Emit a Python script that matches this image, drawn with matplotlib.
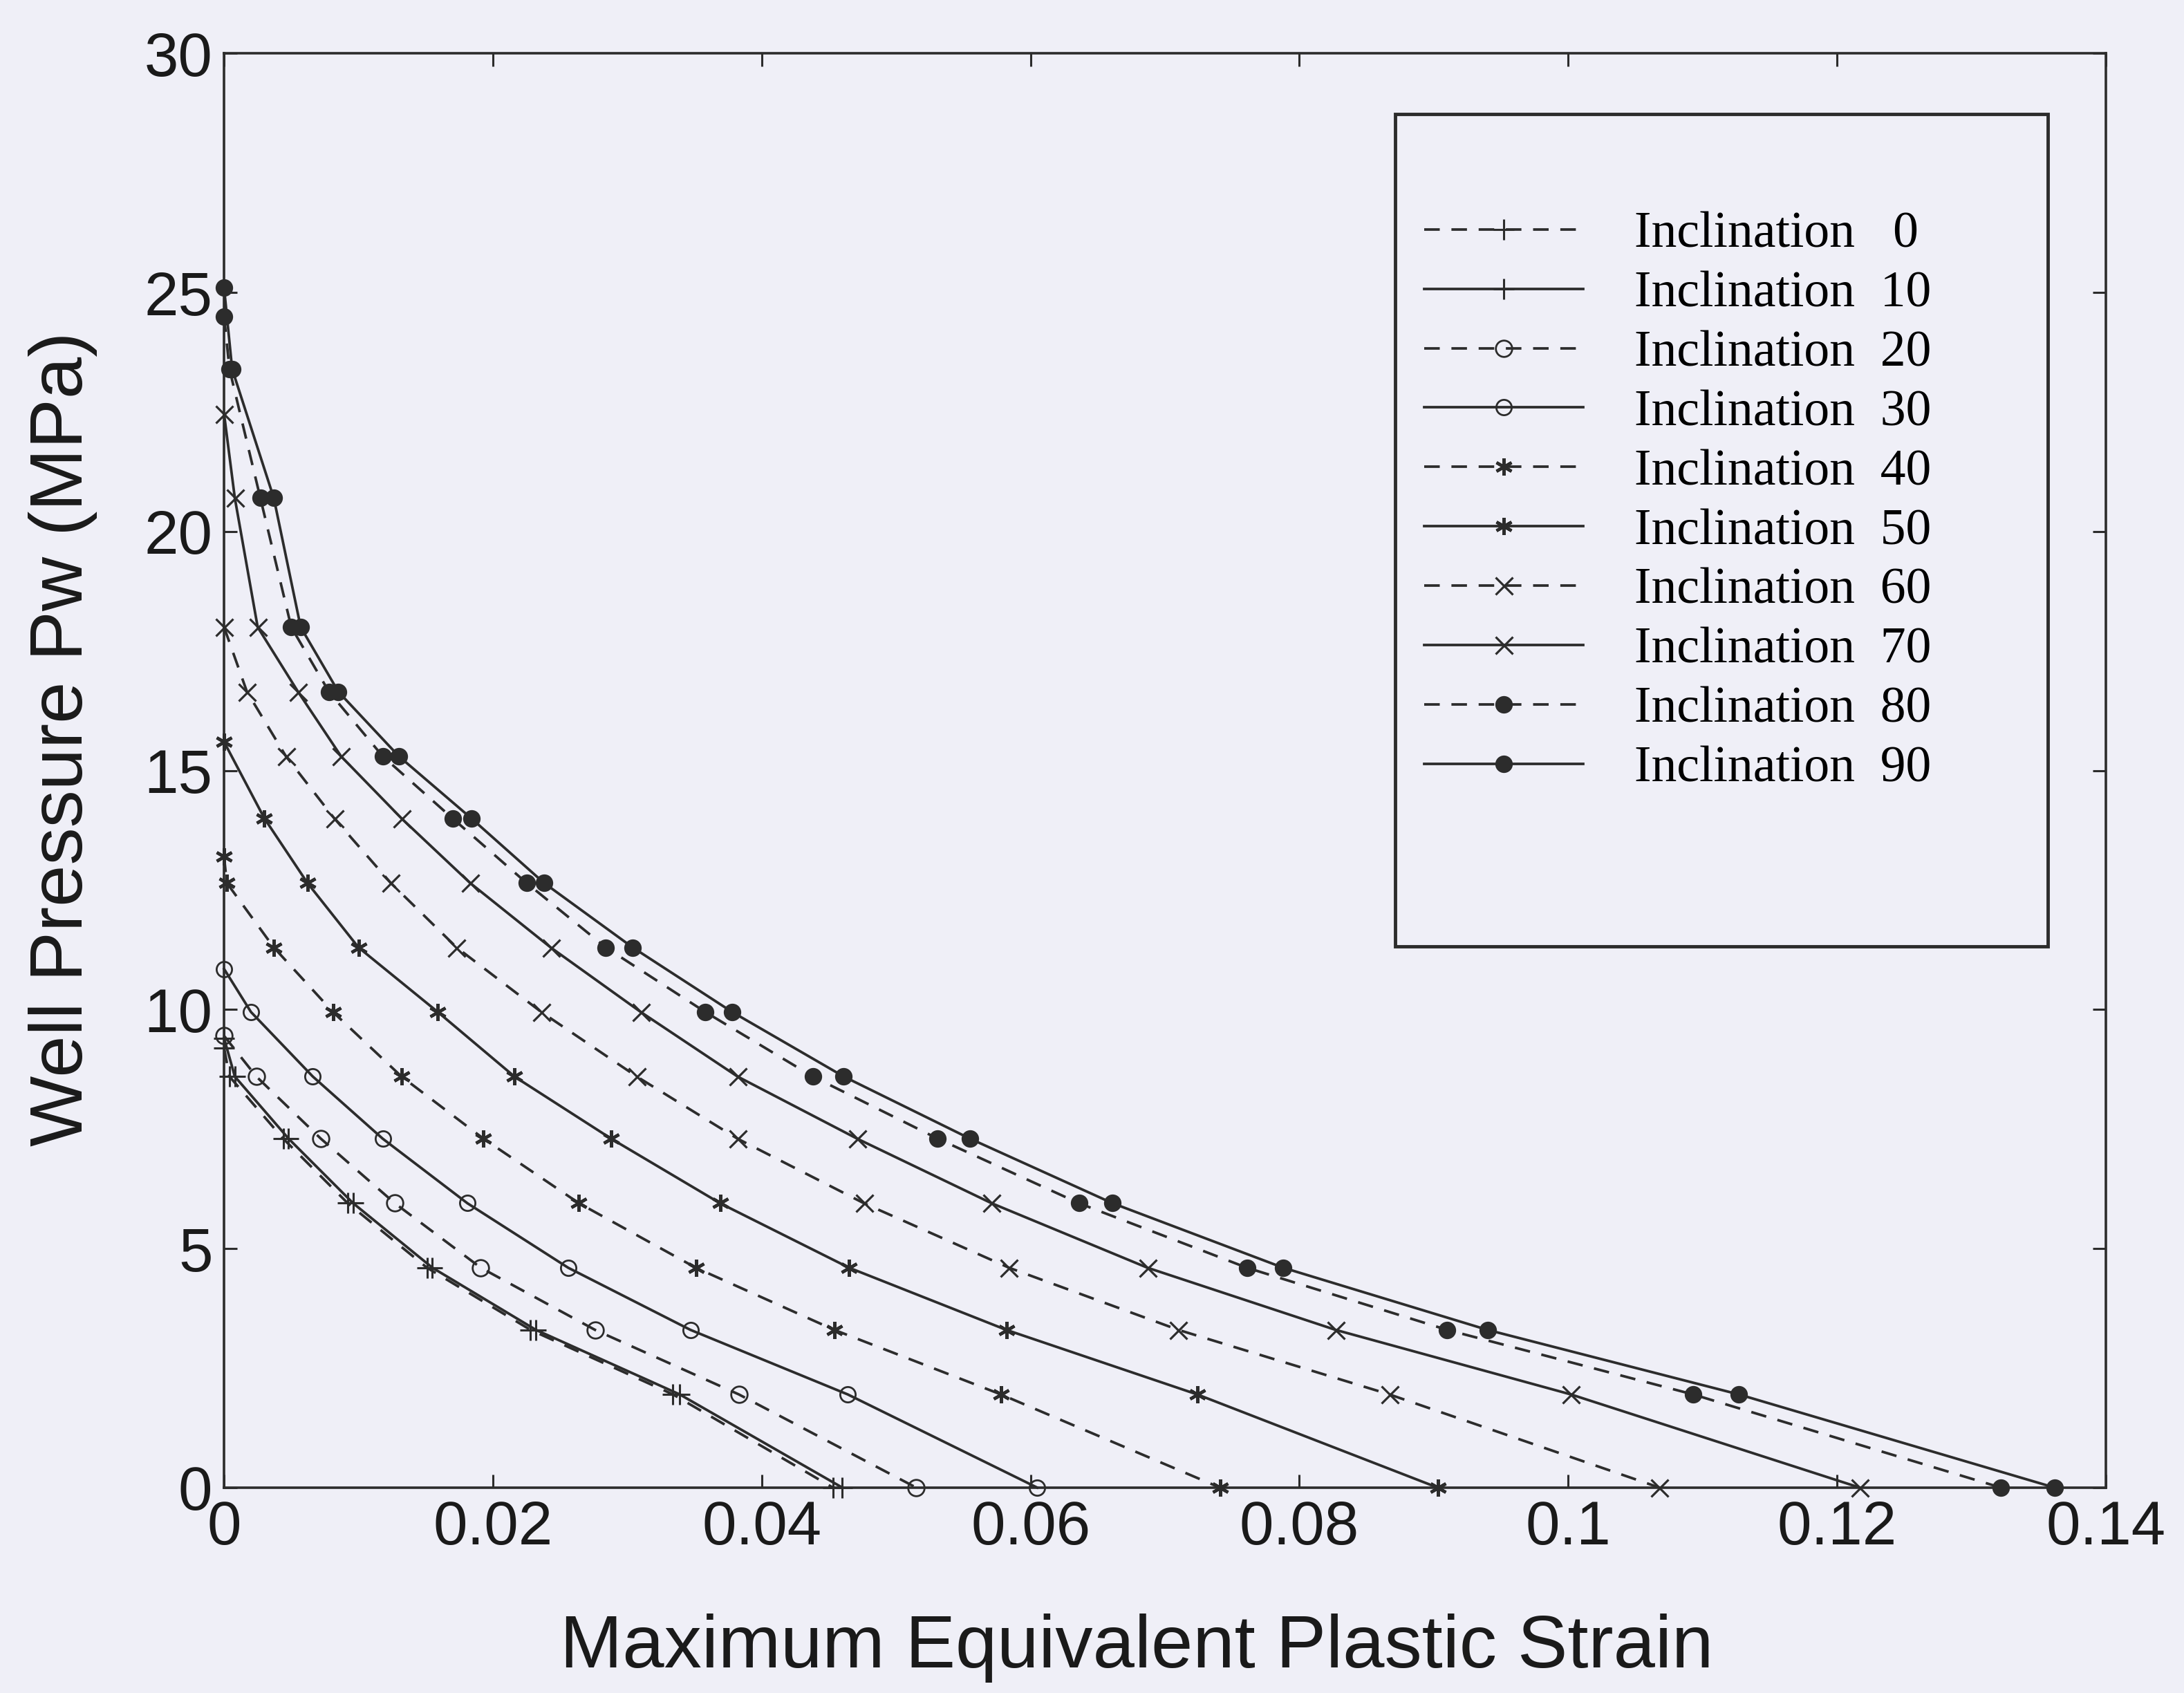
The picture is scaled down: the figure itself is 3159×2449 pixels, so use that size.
import matplotlib
matplotlib.use("Agg")
import matplotlib.pyplot as plt
from matplotlib.patches import Rectangle

# ---------------- data ----------------
inclinations = [0, 10, 20, 30, 40, 50, 60, 70, 80, 90]

strain_0 = [0, 0.0004, 0.0044, 0.0092, 0.0151, 0.0228, 0.0334, 0.0453]
pw_0 = [9.2, 8.6, 7.3, 5.95, 4.6, 3.3, 1.95, 0]

strain_10 = [0, 0.0008, 0.0048, 0.0096, 0.0155, 0.0232, 0.0339, 0.0460]
pw_10 = [9.4, 8.6, 7.3, 5.95, 4.6, 3.3, 1.95, 0]

strain_20 = [0, 0.0024, 0.0072, 0.0127, 0.0191, 0.0276, 0.0383, 0.0515]
pw_20 = [9.45, 8.6, 7.3, 5.95, 4.6, 3.3, 1.95, 0]

strain_30 = [0, 0.0020, 0.0066, 0.0118, 0.0181, 0.0256, 0.0347, 0.0464, 0.0605]
pw_30 = [10.85, 9.95, 8.6, 7.3, 5.95, 4.6, 3.3, 1.95, 0]

strain_40 = [0, 0.0002, 0.0037, 0.0081, 0.0132, 0.0193, 0.0264, 0.0351, 0.0454, 0.0578, 0.0741]
pw_40 = [13.2, 12.65, 11.3, 9.95, 8.6, 7.3, 5.95, 4.6, 3.3, 1.95, 0]

strain_50 = [0, 0.0030, 0.0062, 0.0100, 0.0159, 0.0216, 0.0288, 0.0369, 0.0465, 0.0582, 0.0724, 0.0903]
pw_50 = [15.6, 14.0, 12.65, 11.3, 9.95, 8.6, 7.3, 5.95, 4.6, 3.3, 1.95, 0]

strain_60 = [0, 0.0017, 0.0046, 0.0082, 0.0124, 0.0173, 0.0236, 0.0307, 0.0382, 0.0476,
             0.0584, 0.0710, 0.0867, 0.1068]
pw_60 = [18.0, 16.65, 15.3, 14.0, 12.65, 11.3, 9.95, 8.6, 7.3, 5.95, 4.6, 3.3, 1.95, 0]

strain_70 = [0, 0.0008, 0.0025, 0.0055, 0.0087, 0.0132, 0.0183, 0.0243, 0.0310, 0.0382,
             0.0471, 0.0571, 0.0687, 0.0827, 0.1002, 0.1217]
pw_70 = [22.46, 20.7, 18.0, 16.65, 15.3, 14.0, 12.65, 11.3, 9.95, 8.6, 7.3, 5.95, 4.6, 3.3, 1.95, 0]

strain_80 = [0, 0.0004, 0.0027, 0.0050, 0.0078, 0.0118, 0.0170, 0.0225, 0.0284, 0.0358,
             0.0438, 0.0531, 0.0636, 0.0761, 0.0910, 0.1093, 0.1322]
pw_80 = [24.5, 23.4, 20.7, 18.0, 16.65, 15.3, 14.0, 12.65, 11.3, 9.95, 8.6, 7.3, 5.95, 4.6,
         3.3, 1.95, 0]

strain_90 = [0, 0.0006, 0.0037, 0.0057, 0.0085, 0.0130, 0.0184, 0.0238, 0.0304, 0.0378,
             0.0461, 0.0555, 0.0661, 0.0788, 0.0940, 0.1127, 0.1362]
pw_90 = [25.1, 23.4, 20.7, 18.0, 16.65, 15.3, 14.0, 12.65, 11.3, 9.95, 8.6, 7.3, 5.95, 4.6,
         3.3, 1.95, 0]

strains = [strain_0, strain_10, strain_20, strain_30, strain_40,
           strain_50, strain_60, strain_70, strain_80, strain_90]
pressures = [pw_0, pw_10, pw_20, pw_30, pw_40, pw_50, pw_60, pw_70, pw_80, pw_90]

x_ticks = [0, 0.02, 0.04, 0.06, 0.08, 0.1, 0.12, 0.14]
x_tick_labels = ["0", "0.02", "0.04", "0.06", "0.08", "0.1", "0.12", "0.14"]
y_ticks = [0, 5, 10, 15, 20, 25, 30]
y_tick_labels = ["0", "5", "10", "15", "20", "25", "30"]

# ---------------- styles ----------------
BG = "#efeff7"
INK = "#2c2c2c"
asterisk = (6, 2, 0)
markers = ["+", "+", "o", "o", asterisk, asterisk, "x", "x", "o", "o"]
msizes = [21, 21, 17, 16, 18, 18, 18, 18, 17, 17]
mfaces = ["none", "none", "none", "none", INK, INK, "none", "none", INK, INK]
mews = [2.2, 2.2, 2.0, 2.0, 3.2, 3.2, 2.3, 2.3, 1.2, 1.2]

fig = plt.figure(figsize=(31.59, 24.49), dpi=100, facecolor=BG)
ax = fig.add_axes([0.1026, 0.1213, 0.8616, 0.8471])
ax.set_facecolor(BG)

handles = []
labels = []
for i, inc in enumerate(inclinations):
    dashed = (i % 2 == 0)
    line, = ax.plot(strains[i], pressures[i], color=INK, lw=2.7,
                    marker=markers[i], markersize=msizes[i],
                    markerfacecolor=mfaces[i], markeredgecolor=INK,
                    markeredgewidth=mews[i], clip_on=False)
    if dashed:
        line.set_dashes((6, 4.5))
    handles.append(line)
    labels.append(("Inclination   %d" if inc == 0 else "Inclination  %d") % inc)

ax.set_xlim(0, 0.14)
ax.set_ylim(0, 30)
ax.set_xticks(x_ticks)
ax.set_xticklabels(x_tick_labels)
ax.set_yticks(y_ticks)
ax.set_yticklabels(y_tick_labels)

ax.tick_params(axis="both", direction="in", length=14, width=2.2,
               top=True, right=True, colors=INK, labelcolor="#1a1a1a")
ax.tick_params(axis="x", pad=12)
ax.tick_params(axis="y", pad=12)
for lab in ax.get_xticklabels() + ax.get_yticklabels():
    lab.set_fontfamily("Liberation Sans")
    lab.set_fontsize(64)
for sp in ax.spines.values():
    sp.set_linewidth(2.6)
    sp.set_color(INK)

ax.set_xlabel("Maximum Equivalent Plastic Strain", fontfamily="Liberation Sans",
              fontsize=78, color="#1a1a1a")
ax.set_ylabel("Well Pressure Pw (MPa)", fontfamily="Liberation Sans",
              fontsize=78, color="#1a1a1a")
ax.xaxis.label.set_va("center")
ax.yaxis.label.set_va("center")
ax.xaxis.set_label_coords(0.485, -0.112)
ax.yaxis.set_label_coords(-0.0856, 0.522)

# legend (MATLAB style box with generous padding)
fig.add_artist(Rectangle((0.6388, 0.4410), 0.2988, 0.4916, transform=fig.transFigure,
                         fill=False, lw=3.5, ec=INK))
ax.legend(handles, labels, loc="upper left", bbox_to_anchor=(0.6521, 0.8751),
          bbox_transform=fig.transFigure, frameon=False, borderpad=0,
          borderaxespad=0, handlelength=3.13, handletextpad=1.0,
          labelspacing=0.25, numpoints=1,
          prop={"family": "Liberation Serif", "size": 53})

fig.savefig("out.png", dpi=100, facecolor=BG)
